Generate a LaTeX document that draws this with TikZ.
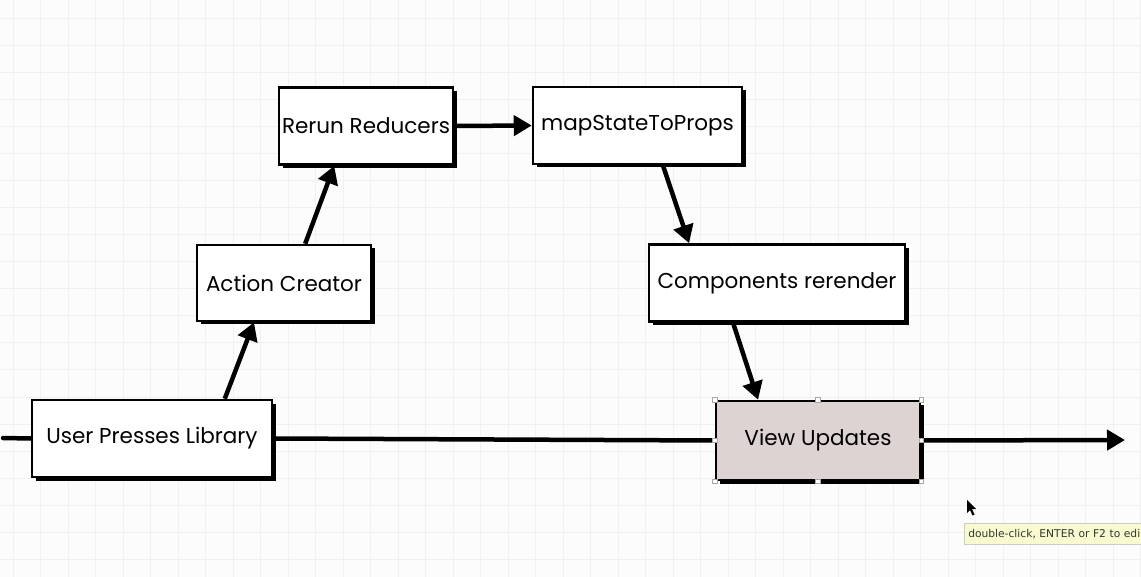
\documentclass[tikz,border=0pt]{standalone}
\usepackage{fontspec}
\setmainfont{Poppins}
\newfontfamily\tipfont{DejaVu Sans}
\usetikzlibrary{arrows.meta,calc,shadows}
\definecolor{bgc}{HTML}{FCFCFC}
\definecolor{gridc}{HTML}{F1F1F1}
\definecolor{viewc}{HTML}{DDD3D2}
\definecolor{tipc}{HTML}{FAFAD0}
\definecolor{tiptext}{HTML}{2E3A2E}
\tikzset{
  box/.style={draw=black, line width=2.5pt, fill=white, inner sep=0pt,
    font=\fontsize{21.5}{23}\selectfont,
    drop shadow={shadow xshift=3.5pt, shadow yshift=-3.5pt, fill=black, opacity=1}},
  arr/.style={line width=4.5pt, -{Triangle[length=18pt,width=20pt]}},
  plain/.style={line width=4.5pt, line cap=round},
  handle/.style={draw=gray!70, fill=white, line width=0.6pt, minimum size=4.5pt, inner sep=0pt}
}
\begin{document}
\begin{tikzpicture}[x=1pt,y=-1pt]
\useasboundingbox (0,0) rectangle (1141,577);
\fill[bgc] (0,0) rectangle (1141,577);
\foreach \x in {13,40.5,...,1141} \draw[gridc, line width=1pt] (\x,0) -- (\x,577);
\foreach \y in {19,46,...,577} \draw[gridc, line width=1pt] (0,\y) -- (1141,\y);

\node[box, minimum width=174pt, minimum height=77pt] (rerun) at (366,126) {Rerun Reducers};
\node[box, minimum width=209pt, minimum height=77pt] (mapstate) at (637.5,125.5) {mapStateToProps};
\node[box, minimum width=174pt, minimum height=76pt] (action) at (284,283) {Action Creator};
\node[box, minimum width=256pt, minimum height=77pt] (comp) at (777,283) {Components rerender};
\node[box, minimum width=240pt, minimum height=77pt] (user) at (152,438.5) {User Presses Library};
\node[box, fill=viewc, minimum width=204pt, minimum height=79pt] (view) at (818,440.5) {View Updates};

\coordinate (start) at (3,438);
\coordinate (end) at (1125,440);

\draw[plain] (start) -- (user.west);
\draw[line width=4.5pt] (user.east) -- (view.west);
\draw[arr] (view.east) -- (end);
\draw[arr] ($(user.north west)!0.80!(user.north east)$) -- ($(action.south west)!0.33!(action.south east)$);
\draw[arr] ($(action.north west)!0.62!(action.north east)$) -- ($(rerun.south west)!0.32!(rerun.south east)$);
\draw[arr] (rerun.east) -- (mapstate.west);
\draw[arr] ($(mapstate.south west)!0.62!(mapstate.south east)$) -- ($(comp.north west)!0.16!(comp.north east)$);
\draw[arr] ($(comp.south west)!0.33!(comp.south east)$) -- ($(view.north west)!0.21!(view.north east)$);

% selection handles
\foreach \a in {north west,north,north east,east,south east,south,south west,west}
  \node[handle] (h-\a) at (view.\a) {};

% mouse cursor
\fill[black] (967,500) -- (967,513) -- (970,510) -- (972.5,515.5) -- (974.5,514.5) -- (972,509) -- (976,509) -- cycle;

% tooltip
\node[draw=gray!40, fill=tipc, line width=0.5pt, anchor=north west, minimum width=190pt, minimum height=21pt,
  inner xsep=4pt, text=tiptext, font=\tipfont\fontsize{10.7}{12}\selectfont, align=left, text width=182pt] (tip) at (964,523) {double-click, ENTER or F2 to edi};
\end{tikzpicture}
\end{document}
